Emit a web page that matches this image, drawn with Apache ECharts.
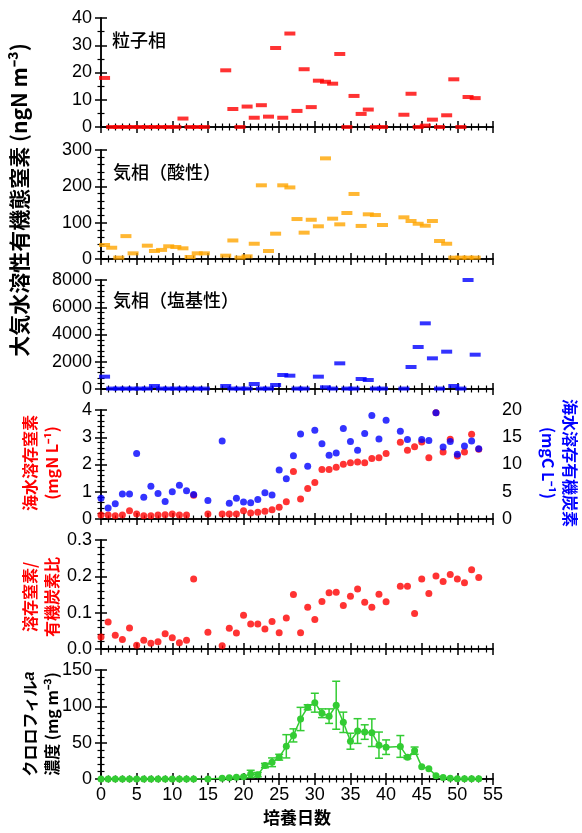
<!DOCTYPE html>
<html><head><meta charset="utf-8">
<script src="https://cdn.jsdelivr.net/npm/echarts@6/dist/echarts.min.js"></script>
<style>html,body{margin:0;padding:0;background:#fff}#c{width:582px;height:833px}</style>
</head><body><div id="c"></div>
<script>
// ---- data ----
const particleDays = [0.5,1.5,2.5,3.5,4.5,5.5,6.5,7.5,8.5,9.5,10.5,11.5,12.5,13.5,14.5,17.5,18.5,19.5,20.5,21.5,22.5,23.5,24.5,25.5,26.5,27.5,28.5,29.5,30.5,31.5,32.5,33.5,34.5,35.5,36.5,37.5,38.5,39.5,42.5,43.5,44.5,45.5,46.5,47.5,48.5,49.5,50.5,51.5,52.5];
const particleVals = [18,0,0,0,0,0,0,0,0,0,0,3.1,0,0,0,20.8,6.6,0,7.5,3.4,8.0,3.8,29.0,3.4,34.3,5.9,21.2,7.3,17.0,16.6,15.9,26.8,0,11.4,4.8,6.4,0,0,4.5,12.2,0,0.5,2.7,0,4.3,17.5,0,11.0,10.6];

const acidDays = [0.5,1.5,2.5,3.5,4.5,6.5,7.5,8.5,9.5,10.5,11.5,12.5,13.5,14.5,17.5,18.5,19.5,20.5,21.5,22.5,23.5,24.5,25.5,26.5,27.5,28.5,29.5,30.5,31.5,32.5,33.5,34.5,35.5,36.5,37.5,38.5,39.5,42.5,43.5,44.5,45.5,46.5,47.5,48.5,49.5,50.5,51.5,52.5];
const acidVals = [38.5,31,3.7,63,15.6,36.7,22,25,35,33,29.4,5.5,15.6,15.6,9.2,51,3.7,7.3,42,202.8,22,69.7,202.8,197,110,72.5,108,90,277,111,95.4,126.6,179,91,123,121,93.6,114.7,104.6,97,91.7,104.6,49.5,42,3.7,3.7,3.7,3.7];

const baseDays = [0.5,1.5,2.5,3.5,4.5,5.5,6.5,7.5,8.5,9.5,10.5,11.5,12.5,13.5,14.5,17.5,18.5,19.5,20.5,21.5,22.5,23.5,24.5,25.5,26.5,27.5,28.5,30.5,31.5,32.5,33.5,34.5,35.5,36.5,37.5,38.5,39.5,42.5,43.5,44.5,45.5,46.5,47.5,48.5,49.5,50.5,51.5,52.5];
const baseVals = [905,30,30,30,30,30,30,220,30,30,30,30,30,30,30,220,30,30,30,367,30,30,294,1027,978,30,30,905,122,30,1883,30,30,734,660,30,30,30,1614,3082,4819,2250,30,2740,220,30,8000,2519];

const seaDays = [0,1,2,3,4,5,6,7,8,9,10,11,12,13,15,17,18,19,20,21,22,23,24,25,26,27,28,29,30,31,32,33,34,35,36,37,38,39,40,42,43,44,45,46,47,48,49,50,51,52,53];
const seaN = [0.15,0.15,0.12,0.15,0.30,0.18,0.12,0.12,0.15,0.16,0.18,0.15,0.15,0.87,0.18,0.18,0.18,0.18,0.30,0.22,0.25,0.28,0.34,0.43,0.63,1.74,0.73,1.12,1.34,1.82,1.82,1.90,2.01,2.06,2.09,2.06,2.22,2.25,2.40,2.82,2.52,2.65,2.83,2.25,3.9,2.46,2.93,2.31,2.46,3.11,2.56];
const seaC = [3.8,2.0,2.8,4.6,4.6,12.0,4.0,6.0,4.7,3.2,5.0,6.2,5.2,4.5,3.4,14.3,2.9,3.8,3.1,3.0,3.6,4.8,4.4,9.0,7.4,11.6,15.6,9.7,16.3,13.8,11.7,12.1,16.6,14.2,12.6,15.7,19.0,14.7,18.1,16.1,14.6,27,14.6,14.4,19.5,13.2,14.2,11.9,13.4,14.3,12.9];

const ratioVals = [0.033,0.074,0.038,0.026,0.058,0.010,0.024,0.016,0.020,0.042,0.031,0.017,0.024,0.193,0.046,0.009,0.057,0.044,0.093,0.069,0.069,0.055,0.076,0.045,0.085,0.150,0.045,0.115,0.081,0.131,0.155,0.156,0.120,0.145,0.165,0.129,0.115,0.151,0.130,0.173,0.173,0.098,0.193,0.153,0.201,0.186,0.205,0.193,0.182,0.218,0.197];

const chlDays = [0,1,2,3,4,5,6,7,8,9,10,11,12,13,15,17,18,19,20,21,22,23,24,25,26,27,28,29,30,31,32,33,34,35,36,37,38,39,40,42,43,44,45,46,47,48,49,50,51,52,53];
const chlVals = [0,0,0,0,0,0,0,0,0,0,0,0,0,0,0,1,1.8,2.3,3.2,7,6,18.5,23,30,45,60,82.6,98.7,105,90.5,86.5,101.5,78,52,66,64.6,63.7,46.6,43.8,44.8,30,39,17,14,4.6,2,1,0.5,0.5,0.5,0.5];
const chlErr  = [0,0,0,0,0,0,0,0,0,0,0,0,0,0,0,0,0,0,0,5,3,3,6,4,16,9,16,3.5,13,6,10,33,14,11,17,10,19,18,10,15,2,5,0,0,0,0,0,0,0,0,0];

const xTickLabels = ['0','5','10','15','20','25','30','35','40','45','50','55'];

// ---- chart ----
const RED='#ff0000', ORANGE='#ffa500', BLUE='#0000ff', GREEN='#33cc33';
const tops=[18,150,280,410,540,670];
const H=109;
const numFont='Liberation Sans';
const jpFont='"Noto Sans CJK JP"';
const grids = tops.map(t=>({left:101,width:392,top:t,height:H}));

const axLine={show:true,lineStyle:{color:'#000',width:1.5}};
const majTick={show:true,inside:false,length:6,lineStyle:{color:'#000',width:1.5}};
function xAx(g,pos,label){
  return {type:'value',gridIndex:g,position:pos,min:0,max:55,interval:5,
    axisLine:axLine,axisTick:majTick,
    minorTick:{show:true,splitNumber:5,length:3.5,lineStyle:{color:'#000',width:1.2}},
    splitLine:{show:false},minorSplitLine:{show:false},
    axisLabel:{show:label,fontSize:18,fontFamily:numFont,color:'#000',margin:7,
      formatter:v=>xTickLabels[Math.round(v/5)]}};
}
function yAx(g,pos,min,max,interval,minor,label,fmt){
  return {type:'value',gridIndex:g,position:pos,min:min,max:max,interval:interval,
    axisLine:axLine,axisTick:majTick,
    minorTick:{show:true,splitNumber:minor,length:3.5,lineStyle:{color:'#000',width:1.2}},
    splitLine:{show:false},minorSplitLine:{show:false},
    axisLabel:{show:label,fontSize:18,fontFamily:numFont,color:'#000',margin:9,formatter:fmt||(v=>String(v))}};
}
const xAxes=[], yAxes=[];
for(let g=0; g<6; g++){
  xAxes.push(xAx(g,'bottom',g===5));
  xAxes.push(xAx(g,'top',false));
}
yAxes.push(yAx(0,'left',0,40,10,2,true)); yAxes.push(yAx(0,'right',0,40,10,2,false));
yAxes.push(yAx(1,'left',0,300,100,5,true)); yAxes.push(yAx(1,'right',0,300,100,5,false));
yAxes.push(yAx(2,'left',0,8000,2000,5,true)); yAxes.push(yAx(2,'right',0,8000,2000,5,false));
yAxes.push(yAx(3,'left',0,4,1,5,true)); yAxes.push(yAx(3,'right',0,20,5,5,true));
yAxes.push(yAx(4,'left',0,0.3,0.1,5,true,v=>v.toFixed(1))); yAxes.push(yAx(4,'right',0,0.3,0.1,5,false));
yAxes.push(yAx(5,'left',0,150,50,5,true)); yAxes.push(yAx(5,'right',0,150,50,5,false));

const zip=(a,b)=>a.map((d,i)=>[d,b[i]]);
const dash={type:'scatter',symbol:'rect',symbolSize:[11,4],clip:true};
const dot={type:'scatter',symbol:'circle',symbolSize:7,clip:true};

const series=[
  Object.assign({},dash,{xAxisIndex:0,yAxisIndex:0,itemStyle:{color:RED},data:zip(particleDays,particleVals)}),
  Object.assign({},dash,{xAxisIndex:2,yAxisIndex:2,itemStyle:{color:ORANGE},data:zip(acidDays,acidVals)}),
  Object.assign({},dash,{xAxisIndex:4,yAxisIndex:4,itemStyle:{color:BLUE},data:zip(baseDays,baseVals)}),
  Object.assign({},dot,{xAxisIndex:6,yAxisIndex:6,itemStyle:{color:RED},z:2,data:zip(seaDays,seaN)}),
  Object.assign({},dot,{xAxisIndex:6,yAxisIndex:7,itemStyle:{color:BLUE},z:3,data:zip(seaDays,seaC)}),
  Object.assign({},dot,{xAxisIndex:8,yAxisIndex:8,itemStyle:{color:RED},data:zip(seaDays,ratioVals)}),
  {type:'custom',xAxisIndex:10,yAxisIndex:10,z:2,
    data:chlDays.map((d,i)=>[d,chlVals[i],chlErr[i]]),
    encode:{x:0,y:1},
    renderItem:function(params,api){
      const x=api.value(0), y=api.value(1), e=api.value(2);
      if(!e) return null;
      const t=api.coord([x,y+e]), b=api.coord([x,y-e]);
      const w=4, st={stroke:GREEN,lineWidth:1.5};
      return {type:'group',children:[
        {type:'line',shape:{x1:t[0],y1:t[1],x2:b[0],y2:b[1]},style:st},
        {type:'line',shape:{x1:t[0]-w,y1:t[1],x2:t[0]+w,y2:t[1]},style:st},
        {type:'line',shape:{x1:b[0]-w,y1:b[1],x2:b[0]+w,y2:b[1]},style:st}
      ]};
    }},
  {type:'line',xAxisIndex:10,yAxisIndex:10,z:3,symbol:'circle',symbolSize:7,showAllSymbol:true,
    lineStyle:{color:GREEN,width:1.5},itemStyle:{color:GREEN},data:zip(chlDays,chlVals)}
];

const lbl=(x,y,rot,text,color,size,extra)=>Object.assign({type:'text',x:x,y:y,rotation:rot,
  style:{text:text,fill:color,fontSize:size,fontWeight:'bold',fontFamily:jpFont,align:'center',verticalAlign:'middle',lineHeight:size+6}},extra||{});
const panelName=(x,y,text)=>({type:'text',x:x,y:y,style:{text:text,fill:'#000',fontSize:18,fontWeight:500,fontFamily:jpFont,align:'left',verticalAlign:'middle'}});

const graphic=[
  lbl(19,200,Math.PI/2,'大気水溶性有機態窒素 (ngN m⁻³)','#000',21),
  lbl(41,463,Math.PI/2,'海水溶存窒素\n(mgN L⁻¹)',RED,16),
  lbl(41,597,Math.PI/2,'溶存窒素/\n有機炭素比',RED,16),
  {type:'text',x:41,y:724,rotation:Math.PI/2,style:{
    text:'{a|クロロフィル}{b|a}\n{a|濃度 (mg m⁻³)}',align:'center',verticalAlign:'middle',
    rich:{a:{fontSize:16,fontWeight:'bold',fontFamily:jpFont,fill:'#000',lineHeight:22},
          b:{fontSize:16,fontWeight:'bold',fontStyle:'italic',fontFamily:numFont,fill:'#000',lineHeight:22}}}},
  lbl(559,463,-Math.PI/2,'海水溶存有機炭素\n(mgC L⁻¹)',BLUE,16),
  panelName(112,40,'粒子相'),
  panelName(113,172,'気相（酸性）'),
  panelName(113,300,'気相（塩基性）'),
  {type:'text',x:297,y:818,style:{text:'培養日数',fill:'#000',fontSize:17,fontWeight:'bold',fontFamily:jpFont,align:'center',verticalAlign:'middle'}}
];

const chart=echarts.init(document.getElementById('c'),null,{renderer:'canvas'});
chart.setOption({animation:false,backgroundColor:'#fff',grid:grids,xAxis:xAxes,yAxis:yAxes,series:series,graphic:graphic});
</script></body></html>
